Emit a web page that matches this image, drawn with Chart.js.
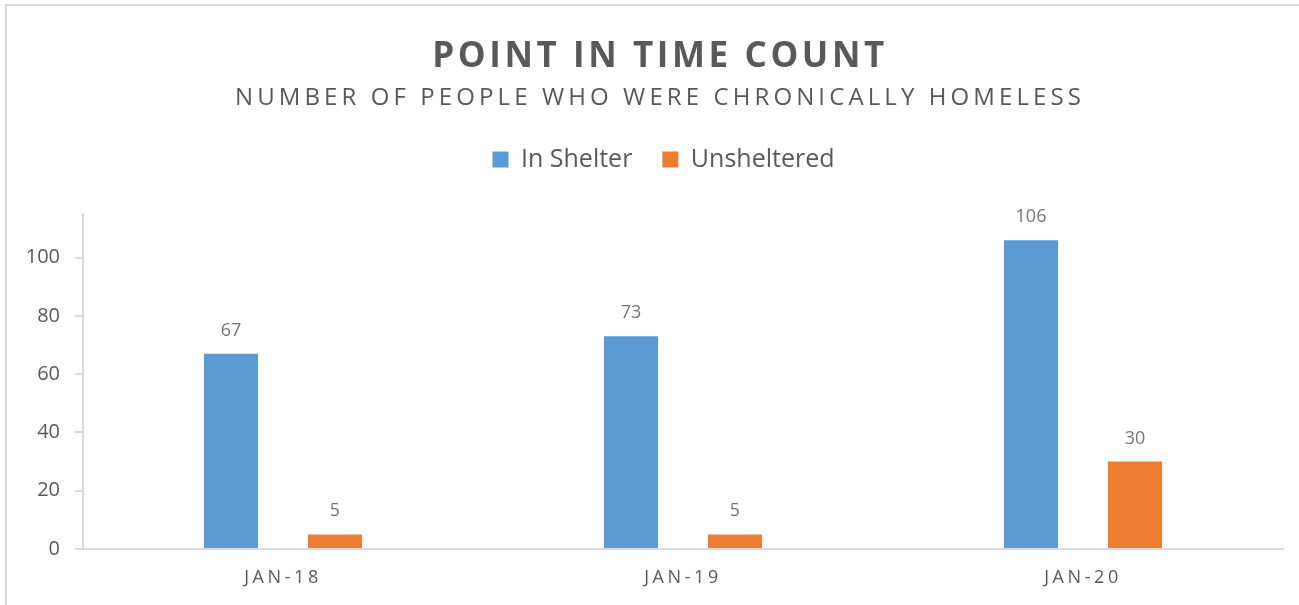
<!DOCTYPE html>
<html>
<head>
<meta charset="utf-8">
<title>Point in Time Count</title>
<script src="https://cdn.jsdelivr.net/npm/chart.js@4.4.1/dist/chart.umd.min.js"></script>
<style>
  body { margin: 0; background: #fff; }
  canvas { display: block; }
</style>
</head>
<body>
<canvas id="pit_chart" width="1299" height="605"></canvas>
<script>
const categories = ['JAN-18', 'JAN-19', 'JAN-20'];
const inShelter = [67, 73, 106];
const unsheltered = [5, 5, 30];
const yTicks = [0, 20, 40, 60, 80, 100];

const chartTitle = 'POINT IN TIME COUNT';
const chartSubtitle = 'NUMBER OF PEOPLE WHO WERE CHRONICALLY HOMELESS';

const textGray = '#595959';
const lineGray = '#d9d9d9';
const fontName = "'Open Sans', sans-serif";

Chart.defaults.font.family = fontName;
Chart.defaults.color = textGray;

// frame + title block (canvas letterSpacing, chart.js titles can't do it)
const headerPlugin = {
  id: 'header',
  beforeDraw(chart) {
    const ctx = chart.ctx;
    ctx.save();
    ctx.strokeStyle = lineGray;
    ctx.lineWidth = 2;
    ctx.beginPath();
    ctx.moveTo(6, chart.height);
    ctx.lineTo(6, 5);
    ctx.lineTo(chart.width, 5);
    ctx.stroke();

    ctx.fillStyle = textGray;
    ctx.textAlign = 'center';
    ctx.textBaseline = 'alphabetic';
    ctx.font = 'bold 35px ' + fontName;
    ctx.letterSpacing = '3.6px';
    ctx.fillText(chartTitle, 660, 67);
    ctx.font = '24px ' + fontName;
    ctx.letterSpacing = '4.1px';
    ctx.fillText(chartSubtitle, 660, 105);
    ctx.restore();
  }
};

// extra room between legend and plot, and nudge legend to the right
const legendGap = {
  id: 'legendGap',
  beforeInit(chart) {
    const fit = chart.legend.fit;
    chart.legend.fit = function () {
      fit.call(this);
      this.height += 32;
    };
  },
  afterLayout(chart) {
    chart.legend.left += 22;
    chart.legend.right += 22;
  }
};

const valueLabels = {
  id: 'valueLabels',
  afterDatasetsDraw(chart) {
    const ctx = chart.ctx;
    ctx.save();
    ctx.font = '18px ' + fontName;
    ctx.fillStyle = '#767676';
    ctx.textAlign = 'center';
    ctx.textBaseline = 'alphabetic';
    chart.data.datasets.forEach((ds, di) => {
      chart.getDatasetMeta(di).data.forEach((bar, i) => {
        ctx.fillText(ds.data[i], bar.x, bar.y - 18);
      });
    });
    ctx.restore();
  }
};

// spaced category labels under the x axis
const spacedXLabels = {
  id: 'spacedXLabels',
  afterDraw(chart) {
    const ctx = chart.ctx;
    const xs = chart.scales.x;
    ctx.save();
    ctx.font = '18px ' + fontName;
    ctx.letterSpacing = '3.6px';
    ctx.fillStyle = textGray;
    ctx.textAlign = 'center';
    ctx.textBaseline = 'alphabetic';
    chart.data.labels.forEach((lab, i) => {
      ctx.fillText(lab, xs.getPixelForValue(i), 583);
    });
    ctx.restore();
  }
};

new Chart(document.getElementById('pit_chart'), {
  type: 'bar',
  data: {
    labels: categories,
    datasets: [
      { label: 'In Shelter', data: inShelter, backgroundColor: '#5b9bd5' },
      { label: 'Unsheltered', data: unsheltered, backgroundColor: '#ed7d31' }
    ]
  },
  options: {
    responsive: false,
    animation: false,
    devicePixelRatio: 1,
    datasets: { bar: { categoryPercentage: 0.52, barPercentage: 0.52 } },
    layout: { padding: { top: 117, left: 0, right: 16, bottom: 0 } },
    plugins: {
      legend: {
        labels: { boxWidth: 16, boxHeight: 16, padding: 30, color: textGray, font: { size: 25 } }
      },
      tooltip: { enabled: false }
    },
    scales: {
      x: {
        grid: { display: false },
        border: { color: lineGray, width: 2 },
        ticks: { display: false },
        afterFit(s) { s.height = 56; }
      },
      y: {
        min: 0,
        max: 115,
        afterBuildTicks(s) { s.ticks = yTicks.map(v => ({ value: v })); },
        grid: { drawOnChartArea: false, tickLength: 8, color: lineGray, lineWidth: 2 },
        border: { color: lineGray, width: 2 },
        ticks: { padding: 15, color: textGray, font: { size: 20 } },
        afterFit(s) { s.width = 83; }
      }
    }
  },
  plugins: [headerPlugin, legendGap, valueLabels, spacedXLabels]
});
</script>
</body>
</html>
